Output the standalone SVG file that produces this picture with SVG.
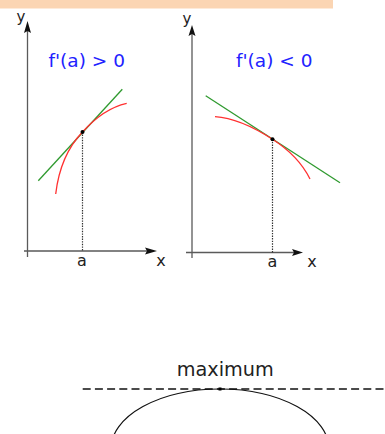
<svg xmlns="http://www.w3.org/2000/svg" width="385" height="434" viewBox="0 0 385 434">
<style>
.axis{stroke:#5a5a5a;stroke-width:1.3;fill:none}
.head{fill:#111;stroke:none}
.dot{stroke:#333;stroke-width:1.2;stroke-dasharray:1.4,1.2;fill:none}
.tan{stroke:#2f9a2f;stroke-width:1.3;fill:none}
.fn{stroke:#ff3030;stroke-width:1.3;fill:none}
.lbl{font-family:"DejaVu Sans",sans-serif;font-size:16px;fill:#222;text-anchor:middle}
.ylbl{font-family:"DejaVu Sans",sans-serif;font-size:15px;fill:#222;text-anchor:middle}
.blue{font-family:"DejaVu Sans",sans-serif;font-size:18.5px;fill:#2222ff}
</style>
<rect x="0" y="0" width="333" height="8.5" fill="#fbd5b3"/>
<g id="left-panel">
<path class="axis" d="M27.5,257 V30 M24,251 H150"/>
<path class="head" d="M27.5,21 L31,33 L27.5,31 L24,33 Z"/>
<path class="head" d="M157,251 L145,254.5 L147,251 L145,247.5 Z"/>
<text class="ylbl" x="21" y="22">y</text>
<text class="lbl" x="161" y="266">x</text>
<text class="lbl" x="82" y="266">a</text>
<line class="dot" x1="82.5" y1="132" x2="82.5" y2="251"/>
<line class="tan" x1="38.3" y1="180.7" x2="122.3" y2="89.3"/>
<path class="fn" d="M55.7,194 C59,166 70,145 82.5,132 C95,118 110,107 126.7,103.3"/>
<circle cx="82.5" cy="132" r="2" fill="#000"/>
<text class="blue" x="48.5" y="66.7">f'(a) &gt; 0</text>
</g>
<g id="right-panel">
<path class="axis" d="M192,258 V32 M186,252.5 H296"/>
<path class="head" d="M192,25 L195.5,36 L192,34 L188.5,36 Z"/>
<path class="head" d="M303,252.5 L292,256 L294,252.5 L292,249 Z"/>
<text class="ylbl" x="187" y="23.5">y</text>
<text class="lbl" x="312" y="267">x</text>
<text class="lbl" x="272.5" y="267">a</text>
<line class="dot" x1="272.5" y1="139.3" x2="272.5" y2="252.5"/>
<line class="tan" x1="205.7" y1="95.7" x2="340" y2="182.7"/>
<path class="fn" d="M215,116.7 C235,118 255,128 272.5,139.3 C290,150.5 302,163 310,179"/>
<circle cx="272.5" cy="139.3" r="2" fill="#000"/>
<text class="blue" x="236" y="66.7">f'(a) &lt; 0</text>
</g>
<g id="maximum">
<text x="176.7" y="376" textLength="97" lengthAdjust="spacingAndGlyphs" style="font-family:'DejaVu Sans',sans-serif;font-size:19px;fill:#222">maximum</text>
<line x1="82.7" y1="389" x2="385" y2="389" stroke="#111" stroke-width="1.4" stroke-dasharray="8,4.2"/>
<ellipse cx="220" cy="449" rx="109" ry="60" fill="none" stroke="#111" stroke-width="1.2"/>
<rect x="218.5" y="387.5" width="3" height="3" fill="#000"/>
</g>
</svg>
